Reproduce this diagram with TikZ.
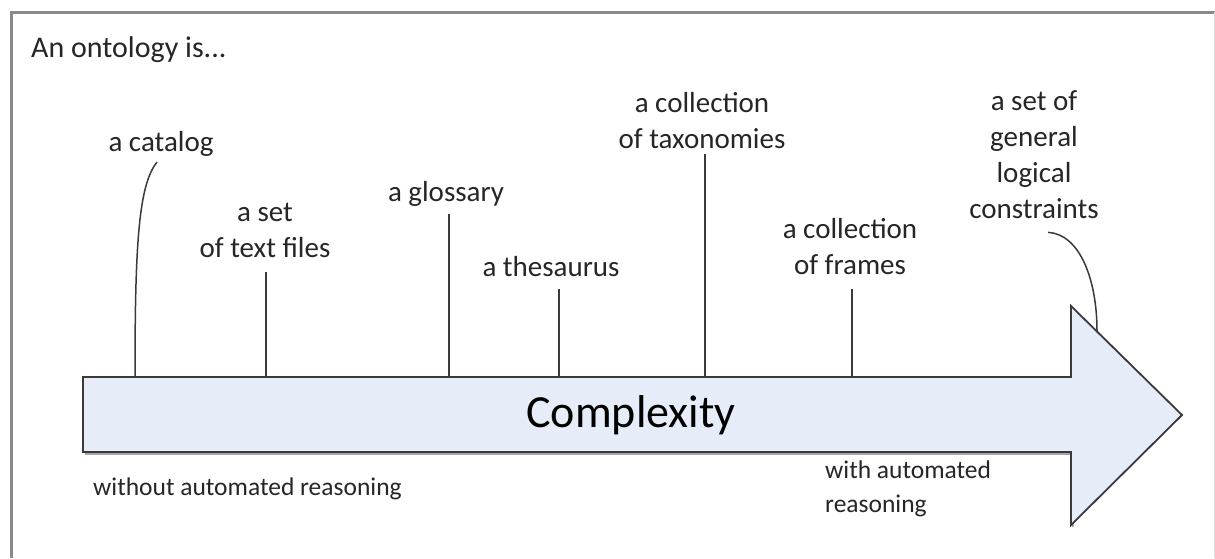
\documentclass[tikz,border=0pt]{standalone}
\usepackage{fontspec}
\setmainfont{Carlito}
\definecolor{inkgray}{HTML}{262626}
\definecolor{linegray}{HTML}{3A3A3A}
\definecolor{framegray}{HTML}{8A8A8A}
\definecolor{shaftfill}{HTML}{E6EDF8}
\begin{document}
\begin{tikzpicture}[x=1pt,y=-1pt,
  % multi-line labels are placed by the baseline of their last line
  label/.style={inner sep=0pt, text=inkgray, align=center, anchor=base,
    font=\fontsize{29}{36}\selectfont},
  note/.style={inner sep=0pt, text=inkgray, align=left, anchor=base west,
    font=\fontsize{25.5}{34}\selectfont},
  tick/.style={draw=linegray, line width=1.5pt},
  arrowbody/.style={draw=linegray, line width=1.8pt, fill=shaftfill, line join=miter},
  arrowshadow/.style={draw=black!35, line width=2pt}]
  % canvas and page frame
  \fill[white] (0,0) rectangle (1215,558);
  \useasboundingbox (0,0) rectangle (1215,558);
  \draw[framegray, line width=3pt] (11,558) -- (11,12) -- (1215,12);
  \draw[black!12, line width=1pt] (1214,12) -- (1214,558);

  % the block arrow
  \draw[arrowshadow] (85,454) -- (1073,454) -- (1073,527);
  \draw[arrowbody] (83,377) -- (1071,377) -- (1071,306) -- (1182,415)
    -- (1071,525) -- (1071,452) -- (83,452) -- cycle;
  \node[inner sep=0pt, text=black, anchor=base,
    font=\fontsize{46}{50}\selectfont] (cx) at (631,427) {Complexity};

  % feet of the connectors on the arrow
  \coordinate (f1) at (135,377);
  \coordinate (f2) at (266,377);
  \coordinate (f3) at (449,377);
  \coordinate (f4) at (559,377);
  \coordinate (f5) at (705,377);
  \coordinate (f6) at (852,377);
  \coordinate (f7) at (1097,331);

  % texts
  \node[inner sep=0pt, text=inkgray, anchor=base west,
    font=\fontsize{30}{36}\selectfont] (title) at (31,57) {An ontology is...};
  \node[label] (catalog) at (161,151) {a catalog};
  \node[label] (textfiles) at (265,257) {a set\\of text files};
  \node[label] (glossary) at (446,201) {a glossary};
  \node[label] (thesaurus) at (551,276) {a thesaurus};
  \node[label] (taxonomies) at (702,148) {a collection\\of taxonomies};
  \node[label] (frames) at (850,274) {a collection\\of frames};
  \node[label] (constraints) at (1034,218) {a set of\\general\\logical\\constraints};
  \node[note] (without) at (93,495) {without automated reasoning};
  \node[note] (with) at (825,512) {with automated\\reasoning};

  % connectors
  \draw[tick] ([shift={(-4pt,-6pt)}]catalog.south) .. controls (138,185) and (135,250) .. (f1);
  \draw[tick, shorten <=15pt] (textfiles.south -| f2) -- (f2);
  \draw[tick, shorten <=8pt] (glossary.south -| f3) -- (f3);
  \draw[tick, shorten <=13pt] (thesaurus.south -| f4) -- (f4);
  \draw[tick, shorten <=6pt] (taxonomies.south -| f5) -- (f5);
  \draw[tick, shorten <=15pt] (frames.south -| f6) -- (f6);
  \draw[tick] ([shift={(14pt,-14pt)}]constraints.south) .. controls (1080,234) and (1097,280) .. (f7);
\end{tikzpicture}
\end{document}
